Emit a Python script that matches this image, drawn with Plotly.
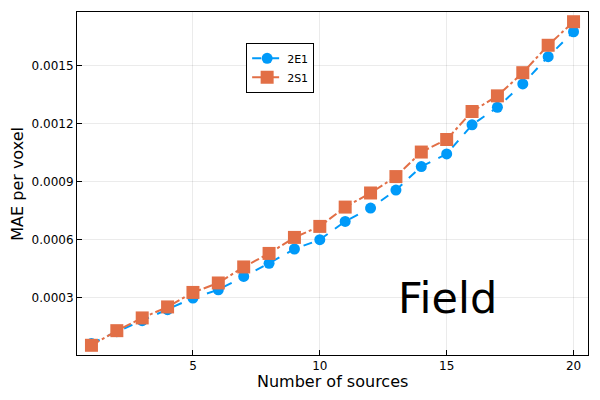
import plotly.graph_objects as go

n_sources = list(range(1, 21))

mae_2e1 = [0.0000621, 0.000124, 0.000181, 0.000238, 0.000298, 0.000341, 0.000410,
           0.000478, 0.000552, 0.000600, 0.000695, 0.000764, 0.000857, 0.000979,
           0.001044, 0.001195, 0.001286, 0.001407, 0.001548, 0.001677]
mae_2s1 = [0.0000533, 0.000129, 0.000195, 0.000252, 0.000327, 0.000376, 0.000459,
           0.000529, 0.000612, 0.000669, 0.000769, 0.000842, 0.000927, 0.001054,
           0.001119, 0.001264, 0.001345, 0.001465, 0.001607, 0.001729]

x_ticks = [5, 10, 15, 20]
y_ticks = [0.0003, 0.0006, 0.0009, 0.0012, 0.0015]
y_tick_labels = ["0.0003", "0.0006", "0.0009", "0.0012", "0.0015"]

FONT = "DejaVu Sans"

# range like Plots.jl: 3% padding each side
lo = min(mae_2e1 + mae_2s1)
hi = max(mae_2e1 + mae_2s1)
pad = 0.03 * (hi - lo)
xpad = 0.03 * (n_sources[-1] - n_sources[0])

fig = go.Figure()
fig.add_trace(go.Scatter(
    x=n_sources, y=mae_2e1, name="2E1", mode="lines+markers",
    line=dict(color="#009af9", width=2, dash="dash"),
    marker=dict(symbol="circle", size=11, color="#009af9"),
))
fig.add_trace(go.Scatter(
    x=n_sources, y=mae_2s1, name="2S1", mode="lines+markers",
    line=dict(color="#e26f46", width=2, dash="dashdot"),
    marker=dict(symbol="square", size=13, color="#e26f46"),
))

fig.add_annotation(x=15.05, y=0.0003, text="Field", showarrow=False,
                   font=dict(family=FONT, size=43, color="black"),
                   xanchor="center", yanchor="middle")

# axis titles as annotations (standoff is ignored without automargin)
fig.add_annotation(x=0.5, y=-0.078, xref="paper", yref="paper",
                   text="Number of sources", showarrow=False,
                   font=dict(family=FONT, size=16, color="black"),
                   xanchor="center", yanchor="middle")
fig.add_annotation(x=-0.117, y=0.5, xref="paper", yref="paper",
                   text="MAE per voxel", showarrow=False, textangle=-90,
                   font=dict(family=FONT, size=16, color="black"),
                   xanchor="center", yanchor="middle")

axis_common = dict(
    showline=True, linecolor="black", linewidth=1, mirror=True,
    ticks="inside", ticklen=5, tickcolor="black",
    showgrid=True, gridcolor="rgba(0,0,0,0.08)", gridwidth=1,
    zeroline=False, tickfont=dict(family=FONT, size=12, color="black"),
    automargin=False,
)

# page body has an 8px margin, so the figure is a bit smaller than the window
fig.update_layout(
    width=584, height=384,
    paper_bgcolor="white", plot_bgcolor="white",
    margin=dict(l=69, r=4, t=4, b=37),
    font=dict(family=FONT, color="black"),
    showlegend=True,
    legend=dict(x=0.331, y=0.91, xanchor="left", yanchor="top",
                bgcolor="white", bordercolor="black", borderwidth=1,
                font=dict(family=FONT, size=11), tracegroupgap=0,
                itemwidth=30),
    xaxis=dict(axis_common, range=[n_sources[0] - xpad, n_sources[-1] + xpad],
               tickvals=x_ticks),
    yaxis=dict(axis_common, range=[lo - pad, hi + pad],
               tickvals=y_ticks, ticktext=y_tick_labels),
)

fig.write_html("out.html")
